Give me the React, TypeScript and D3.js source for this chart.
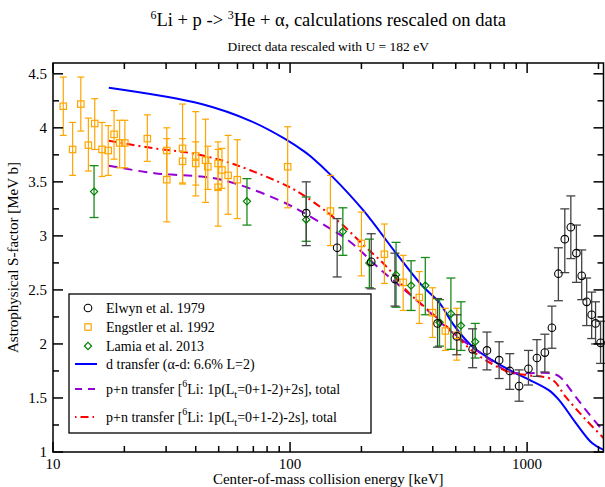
import React from "react";
import * as d3 from "d3";

// ---------- data ----------
const elwynE = [117, 158, 220, 277, 419, 505, 589, 677, 762, 845, 925, 1013, 1100, 1188, 1272, 1355, 1442, 1529, 1614, 1699, 1783, 1872, 1944, 2041];
const elwynS = [3.21, 2.89, 2.76, 2.6, 2.19, 2.07, 1.95, 1.94, 1.85, 1.75, 1.61, 1.77, 1.87, 1.92, 2.15, 2.65, 2.97, 3.08, 2.84, 2.63, 2.39, 2.27, 2.19, 2.01];
const elwynHi = [3.5, 3.16, 3.02, 2.84, 2.42, 2.27, 2.14, 2.11, 2.02, 1.91, 1.76, 1.94, 2.04, 2.09, 2.35, 2.89, 3.25, 3.37, 3.1, 2.87, 2.61, 2.48, 2.39, 2.21];
const elwynLo = [2.91, 2.62, 2.51, 2.35, 1.97, 1.9, 1.78, 1.76, 1.68, 1.58, 1.47, 1.62, 1.7, 1.74, 1.96, 2.4, 2.66, 2.79, 2.57, 2.41, 2.17, 2.05, 2.0, 1.82];

const engE = [11.05, 12.1, 13.1, 14.1, 15.0, 16.1, 17.1, 18.1, 19.1, 20.1, 25.0, 30.2, 30.2, 35.2, 35.2, 40, 40, 44, 45, 49.7, 49.7, 51.6, 54.8, 59.9, 97.7, 148, 200, 250, 300, 351, 399, 452, 505];
const engS = [4.2, 3.8, 4.22, 3.84, 4.04, 3.8, 3.79, 3.94, 3.86, 3.86, 3.9, 3.79, 3.52, 3.81, 3.69, 3.74, 3.67, 3.7, 3.64, 3.67, 3.45, 3.61, 3.56, 3.52, 3.64, 3.23, 2.93, 2.83, 2.57, 2.43, 2.29, 2.12, 2.08];
const engHi = [4.47, 4.05, 4.47, 4.09, 4.27, 4.05, 4.02, 4.16, 4.07, 4.07, 4.12, 4.0, 3.9, 4.22, 3.9, 4.15, 3.87, 4.08, 3.83, 3.87, 3.8, 3.81, 3.93, 3.89, 4.01, 3.56, 3.22, 3.11, 2.82, 2.67, 2.52, 2.33, 2.33];
const engLo = [3.93, 3.56, 3.97, 3.6, 3.8, 3.55, 3.56, 3.71, 3.63, 3.63, 3.69, 3.55, 3.13, 3.49, 3.48, 3.37, 3.47, 3.31, 3.43, 3.43, 3.09, 3.44, 3.2, 3.16, 3.26, 2.91, 2.63, 2.56, 2.31, 2.19, 2.06, 1.94, 1.85];

const lamiaE = [14.9, 65.8, 117, 167, 216, 280, 324, 372, 427, 477, 526, 604];
const lamiaS = [3.41, 3.32, 3.15, 3.04, 2.75, 2.64, 2.54, 2.54, 2.2, 2.28, 2.17, 2.02];
const lamiaHi = [3.65, 3.53, 3.36, 3.26, 2.97, 2.94, 2.77, 2.8, 2.41, 2.61, 2.39, 2.19];
const lamiaLo = [3.17, 3.1, 2.95, 2.82, 2.52, 2.34, 2.31, 2.27, 1.98, 1.95, 1.94, 1.87];

const dE = [17.2, 42.3, 68.7, 94.8, 115, 123, 149, 203, 280, 357, 427, 485, 589, 840, 1019, 1238, 1365, 1603, 1884, 2100];
const dS = [4.37, 4.22, 4.06, 3.9, 3.78, 3.73, 3.56, 3.24, 2.84, 2.55, 2.38, 2.19, 1.975, 1.76, 1.67, 1.57, 1.48, 1.27, 1.08, 1.02];

const pnPlusE = [17.2, 26.8, 42.3, 51.3, 67.5, 96.4, 115, 147, 178, 246, 340, 469, 670, 840, 1019, 1238, 1365, 1603, 1767, 2100];
const pnPlusS = [3.65, 3.58, 3.55, 3.52, 3.44, 3.3, 3.21, 3.07, 2.95, 2.67, 2.41, 2.13, 1.88, 1.74, 1.73, 1.73, 1.7, 1.51, 1.39, 1.19];

const pnMinusE = [17.2, 26.8, 37.2, 51.3, 67.5, 97.6, 117, 161, 203, 254, 318, 399, 469, 608, 840, 1019, 1276, 1455, 1767, 2100];
const pnMinusS = [3.88, 3.81, 3.77, 3.7, 3.61, 3.46, 3.36, 3.13, 2.92, 2.72, 2.47, 2.28, 2.14, 1.91, 1.74, 1.71, 1.67, 1.51, 1.3, 1.13];

const xTickValues = [10, 100, 1000];
const yTickValues = [1, 1.5, 2, 2.5, 3, 3.5, 4, 4.5];

// ---------- layout ----------
const W = 605;
const H = 487;
const L = 53;
const R = 603.5;
const T = 63;
const B = 452;
const FONT = "'Liberation Serif', 'Times New Roman', serif";

const x = d3.scaleLog().domain([10, 2100]).range([L, R]);
const y = d3.scaleLinear().domain([1, 4.6]).range([B, T]);

const xMinor: number[] = [];
for (let dec = 10; dec <= 1000; dec *= 10) {
  for (let k = 2; k <= 9; k++) {
    const v = dec * k;
    if (v < 2100) xMinor.push(v);
  }
}
const yMinor = d3.range(1.25, 4.6, 0.5);

const lineGen = d3
  .line<[number, number]>()
  .x((d) => x(d[0]))
  .y((d) => y(d[1]))
  .curve(d3.curveCatmullRom.alpha(0.5));

function zip(a: number[], b: number[]): [number, number][] {
  return a.map((v, i) => [v, b[i]]);
}

function ErrorBars({ E, S, Hi, Lo, color, cap, width }: any) {
  return (
    <g stroke={color} strokeWidth={width} fill="none">
      {E.map((e: number, i: number) => {
        const cx = x(e);
        return (
          <g key={i}>
            <line x1={cx} x2={cx} y1={y(Hi[i])} y2={y(Lo[i])} />
            <line x1={cx - cap} x2={cx + cap} y1={y(Hi[i])} y2={y(Hi[i])} />
            <line x1={cx - cap} x2={cx + cap} y1={y(Lo[i])} y2={y(Lo[i])} />
          </g>
        );
      })}
    </g>
  );
}

function Circle({ cx, cy }: any) {
  return <circle cx={cx} cy={cy} r={3.8} fill="none" stroke="#000" strokeWidth={1.1} />;
}
function Square({ cx, cy }: any) {
  return <rect x={cx - 3.2} y={cy - 3.2} width={6.4} height={6.4} fill="none" stroke="#ffa500" strokeWidth={1.2} />;
}
function Diamond({ cx, cy }: any) {
  const s = 3.6;
  return (
    <path
      d={`M${cx},${cy - s}L${cx + s},${cy}L${cx},${cy + s}L${cx - s},${cy}Z`}
      fill="none"
      stroke="#008000"
      strokeWidth={1.2}
    />
  );
}

export default function App() {
  const legendRows = [308, 327, 346, 364, 389, 417];
  return (
    <svg
      width={W}
      height={H}
      style={{ position: "absolute", left: 0, top: 0, background: "#fff" }}
      fontFamily={FONT}
    >
      <rect x={0} y={0} width={W} height={H} fill="#fff" />
      {/* titles */}
      <text x={(L + R) / 2} y={26} textAnchor="middle" fontSize={18.5} fill="#000">
        <tspan fontSize={12} dy={-7}>6</tspan>
        <tspan dy={7}>Li + p -&gt; </tspan>
        <tspan fontSize={12} dy={-7}>3</tspan>
        <tspan dy={7}>He + α, calculations rescaled on data</tspan>
      </text>
      <text x={(L + R) / 2} y={51} textAnchor="middle" fontSize={13.5} fill="#000">
        Direct data rescaled with U = 182 eV
      </text>

      {/* curves */}
      <g fill="none">
        <path d={lineGen(zip(dE, dS)) || ""} stroke="#0000ff" strokeWidth={2} />
        <path d={lineGen(zip(pnPlusE, pnPlusS)) || ""} stroke="#9400d3" strokeWidth={2} strokeDasharray="9,6" />
        <path d={lineGen(zip(pnMinusE, pnMinusS)) || ""} stroke="#ff0000" strokeWidth={2} strokeDasharray="8,4,2,4" />
      </g>

      {/* data */}
      <ErrorBars E={engE} S={engS} Hi={engHi} Lo={engLo} color="#ffa500" cap={3.5} width={1.2} />
      <ErrorBars E={lamiaE} S={lamiaS} Hi={lamiaHi} Lo={lamiaLo} color="#1a8a1a" cap={4.5} width={1.3} />
      <ErrorBars E={elwynE} S={elwynS} Hi={elwynHi} Lo={elwynLo} color="#444" cap={4.5} width={1.3} />
      {engE.map((e, i) => (
        <Square key={"s" + i} cx={x(e)} cy={y(engS[i])} />
      ))}
      {lamiaE.map((e, i) => (
        <Diamond key={"d" + i} cx={x(e)} cy={y(lamiaS[i])} />
      ))}
      {elwynE.map((e, i) => (
        <Circle key={"c" + i} cx={x(e)} cy={y(elwynS[i])} />
      ))}

      {/* frame & ticks */}
      <g stroke="#000" strokeWidth={1.5} fill="none">
        <rect x={L} y={T} width={R - L} height={B - T} />
        {xTickValues.map((v) => (
          <g key={"xt" + v}>
            <line x1={x(v)} x2={x(v)} y1={B} y2={B - 10} />
            <line x1={x(v)} x2={x(v)} y1={T} y2={T + 10} />
          </g>
        ))}
        {xMinor.map((v) => (
          <g key={"xm" + v}>
            <line x1={x(v)} x2={x(v)} y1={B} y2={B - 6} />
            <line x1={x(v)} x2={x(v)} y1={T} y2={T + 6} />
          </g>
        ))}
        {yTickValues.map((v) => (
          <g key={"yt" + v}>
            <line x1={L} x2={L + 10} y1={y(v)} y2={y(v)} />
            <line x1={R} x2={R - 10} y1={y(v)} y2={y(v)} />
          </g>
        ))}
        {yMinor.map((v) => (
          <g key={"ym" + v}>
            <line x1={L} x2={L + 6} y1={y(v)} y2={y(v)} />
            <line x1={R} x2={R - 6} y1={y(v)} y2={y(v)} />
          </g>
        ))}
      </g>
      <g fontSize={15} fill="#000">
        {xTickValues.map((v) => (
          <text key={"xl" + v} x={x(v)} y={469} textAnchor="middle">
            {String(v)}
          </text>
        ))}
        {yTickValues.map((v) => (
          <text key={"yl" + v} x={47} y={y(v) + 5} textAnchor="end">
            {String(v)}
          </text>
        ))}
      </g>
      <text x={(L + R) / 2} y={484} textAnchor="middle" fontSize={15} fill="#000">
        Center-of-mass collision energy [keV]
      </text>
      <text
        transform={`translate(18, ${(T + B) / 2}) rotate(-90)`}
        textAnchor="middle"
        fontSize={15}
        fill="#000"
      >
        Astrophysical S-factor [MeV b]
      </text>

      {/* legend */}
      <rect x={69} y={294} width={302} height={139} fill="#fff" stroke="#000" strokeWidth={1.3} />
      <g fontSize={14} fill="#000">
        <Circle cx={88} cy={legendRows[0]} />
        <text x={106} y={legendRows[0] + 5}>Elwyn et al. 1979</text>
        <Square cx={88} cy={legendRows[1]} />
        <text x={106} y={legendRows[1] + 5}>Engstler et al. 1992</text>
        <Diamond cx={88} cy={legendRows[2]} />
        <text x={106} y={legendRows[2] + 5}>Lamia et al. 2013</text>
        <line x1={75} x2={97} y1={legendRows[3]} y2={legendRows[3]} stroke="#0000ff" strokeWidth={2} />
        <text x={106} y={legendRows[3] + 5}>d transfer (α-d: 6.6% L=2)</text>
        <line x1={75} x2={97} y1={legendRows[4]} y2={legendRows[4]} stroke="#9400d3" strokeWidth={2} strokeDasharray="7,6" />
        <text x={106} y={legendRows[4] + 5}>
          p+n transfer [<tspan fontSize={10} dy={-7}>6</tspan>
          <tspan dy={7}>Li: 1p(L</tspan>
          <tspan fontSize={10} dy={4}>t</tspan>
          <tspan dy={-4}>=0+1-2)+2s], total</tspan>
        </text>
        <line x1={75} x2={97} y1={legendRows[5]} y2={legendRows[5]} stroke="#ff0000" strokeWidth={2} strokeDasharray="1.5,4,8,4" />
        <text x={106} y={legendRows[5] + 5}>
          p+n transfer [<tspan fontSize={10} dy={-7}>6</tspan>
          <tspan dy={7}>Li: 1p(L</tspan>
          <tspan fontSize={10} dy={4}>t</tspan>
          <tspan dy={-4}>=0+1-2)-2s], total</tspan>
        </text>
      </g>
    </svg>
  );
}
